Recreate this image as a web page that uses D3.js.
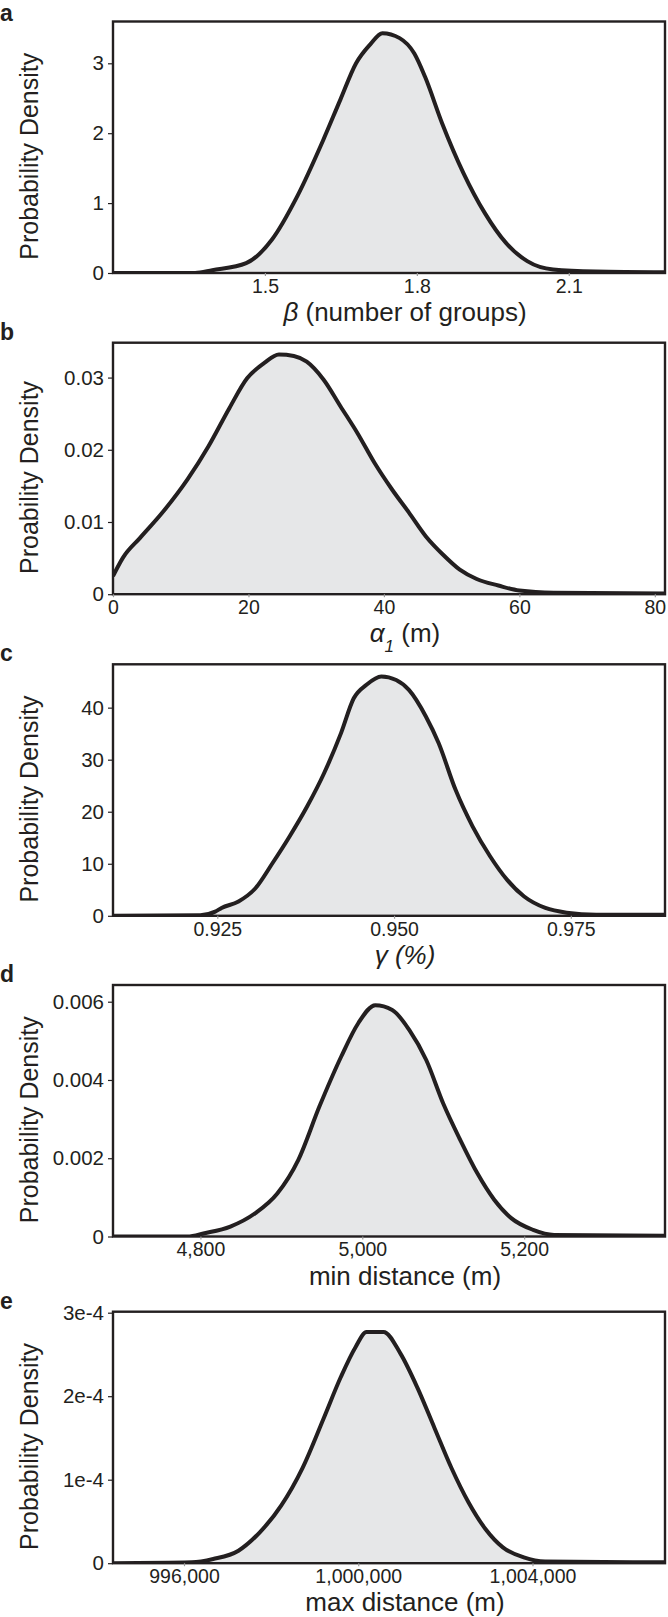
<!DOCTYPE html>
<html>
<head>
<meta charset="utf-8">
<script src="https://cdn.jsdelivr.net/npm/d3@7"></script>
<style>
  body { margin: 0; background: #fff; }
  svg { display: block; font-family: "Liberation Sans", Arial, sans-serif; }
</style>
</head>
<body>
<svg id="chart" width="668" height="1617"></svg>
<script>
// posterior densities, one pair of arrays per panel
const betaX = [1.2, 1.362, 1.396, 1.463, 1.514, 1.564, 1.615, 1.649, 1.680, 1.708, 1.732, 1.766, 1.795, 1.816, 1.850, 1.892, 1.934, 1.976, 2.018, 2.069, 2.153, 2.29];
const betaDensity = [0, 0, 0.04, 0.14, 0.48, 1.1, 1.9, 2.48, 3.0, 3.27, 3.43, 3.36, 3.14, 2.81, 2.14, 1.43, 0.86, 0.43, 0.17, 0.05, 0.02, 0.01];

const alphaX = [0, 1.5, 4.0, 7.2, 11.0, 14.1, 17.2, 19.8, 22.3, 24.5, 26.7, 28.6, 31.1, 33.6, 36.1, 38.6, 41.2, 43.7, 46.2, 48.7, 51.2, 53.7, 56.9, 60.0, 65.1, 81.6];
const alphaDensity = [0.0025, 0.0051, 0.0078, 0.0112, 0.0159, 0.0205, 0.0258, 0.0299, 0.0320, 0.0332, 0.0330, 0.0322, 0.0297, 0.0260, 0.0223, 0.0182, 0.0145, 0.0113, 0.0080, 0.0055, 0.0034, 0.0021, 0.0012, 0.0005, 0.0002, 0.0001];

const gammaX = [0.9103, 0.9226, 0.9247, 0.9256, 0.928, 0.9304, 0.9328, 0.9352, 0.9377, 0.9401, 0.9425, 0.9443, 0.9461, 0.9482, 0.9503, 0.9521, 0.9545, 0.9563, 0.9587, 0.9611, 0.9636, 0.966, 0.9684, 0.9714, 0.9744, 0.9786, 0.9883];
const gammaDensity = [0, 0.1, 0.8, 1.5, 2.75, 5.3, 10.1, 15.2, 21.0, 27.4, 35.1, 41.8, 44.4, 46.0, 45.3, 43.4, 38.3, 33.2, 24.2, 17.2, 11.4, 6.9, 3.7, 1.5, 0.6, 0.2, 0.2];

const minDistX = [4693, 4784, 4805, 4837, 4868, 4895, 4921, 4947, 4974, 4995, 5016, 5037, 5058, 5079, 5100, 5121, 5142, 5163, 5184, 5211, 5237, 5374];
const minDistDensity = [0, 0, 0.000085, 0.000255, 0.0006, 0.0011, 0.00196, 0.00332, 0.0046, 0.00545, 0.00591, 0.00579, 0.00528, 0.00451, 0.0034, 0.00247, 0.00162, 0.00094, 0.00047, 0.00017, 0.00004, 0.00002];

const maxDistX = [994370, 996180, 996670, 997250, 997740, 998230, 998720, 999210, 999600, 999940, 1000190, 1000580, 1000970, 1001360, 1001750, 1002140, 1002530, 1002920, 1003320, 1003800, 1004290, 1007040];
const maxDistDensity = [0, 0.01e-4, 0.05e-4, 0.15e-4, 0.37e-4, 0.69e-4, 1.14e-4, 1.74e-4, 2.23e-4, 2.59e-4, 2.77e-4, 2.77e-4, 2.51e-4, 2.10e-4, 1.62e-4, 1.14e-4, 0.73e-4, 0.41e-4, 0.19e-4, 0.07e-4, 0.02e-4, 0.01e-4];

// axis ranges and ticks
const xDomains = [[1.2, 2.29], [0, 81.5], [0.91025, 0.98832], [4692, 5374], [994370, 1007042]];
const yDomains = [[0, 3.598], [0, 0.03483], [0, 48.33], [0, 0.006427], [0, 3.012e-4]];
const xTicks = [[1.5, 1.8, 2.1], [0, 20, 40, 60, 80], [0.925, 0.95, 0.975], [4800, 5000, 5200], [996000, 1000000, 1004000]];
const xTickLabels = [["1.5", "1.8", "2.1"], ["0", "20", "40", "60", "80"], ["0.925", "0.950", "0.975"], ["4,800", "5,000", "5,200"], ["996,000", "1,000,000", "1,004,000"]];
const yTicks = [[0, 1, 2, 3], [0, 0.01, 0.02, 0.03], [0, 10, 20, 30, 40], [0, 0.002, 0.004, 0.006], [0, 1e-4, 2e-4, 3e-4]];
const yTickLabels = [["0", "1", "2", "3"], ["0", "0.01", "0.02", "0.03"], ["0", "10", "20", "30", "40"], ["0", "0.002", "0.004", "0.006"], ["0", "1e-4", "2e-4", "3e-4"]];
const panelLetters = ["a", "b", "c", "d", "e"];
const yTitles = ["Probability Density", "Proability Density", "Probability Density", "Probability Density", "Probability Density"];

const seriesX = [betaX, alphaX, gammaX, minDistX, maxDistX];
const seriesY = [betaDensity, alphaDensity, gammaDensity, minDistDensity, maxDistDensity];

// layout
const boxTops = [21.5, 342.7, 664.3, 985, 1311.7];
const boxH = 251.5;
const left = 113, right = 665;
const ink = "#231f20";

const svg = d3.select("#chart");

// x axis titles, some with greek / subscript pieces
const xTitleParts = [
  [{ t: "β", it: true }, { t: " (number of groups)" }],
  [{ t: "α", it: true }, { t: "1", it: true, sub: true }, { t: " (m)" }],
  [{ t: "γ (%)", it: true }],
  [{ t: "min distance (m)" }],
  [{ t: "max distance (m)" }]
];

panelLetters.forEach((letter, i) => {
  const top = boxTops[i];
  const bottom = top + boxH;
  const g = svg.append("g");

  const x = d3.scaleLinear().domain(xDomains[i]).range([left, right]);
  const y = d3.scaleLinear().domain(yDomains[i]).range([bottom, top]);

  const pts = seriesX[i].map((v, j) => [v, seriesY[i][j]]);

  const clipId = "clip" + i;
  g.append("clipPath").attr("id", clipId)
    .append("rect").attr("x", left).attr("y", top).attr("width", right - left).attr("height", boxH);

  const area = d3.area()
    .x(d => x(d[0])).y0(y(0)).y1(d => y(d[1]))
    .curve(d3.curveMonotoneX);
  const line = d3.line()
    .x(d => x(d[0])).y(d => y(d[1]))
    .curve(d3.curveMonotoneX);

  const plot = g.append("g").attr("clip-path", `url(#${clipId})`);
  plot.append("path").datum(pts).attr("d", area).attr("fill", "#e6e7e8");
  plot.append("path").datum(pts).attr("d", line)
    .attr("fill", "none").attr("stroke", ink).attr("stroke-width", 4)
    .attr("stroke-linejoin", "round");

  // frame
  g.append("rect").attr("x", left).attr("y", top)
    .attr("width", right - left).attr("height", boxH)
    .attr("fill", "none").attr("stroke", ink).attr("stroke-width", 2.4);

  const yAxis = g.append("g").attr("transform", `translate(${left},0)`)
    .call(d3.axisLeft(y).tickValues(yTicks[i]).tickFormat((d, j) => yTickLabels[i][j]).tickSize(5).tickPadding(4));
  yAxis.select(".domain").remove();
  yAxis.selectAll("line").attr("stroke", ink).attr("stroke-width", 1.2);
  yAxis.selectAll("text").attr("fill", ink).style("font-size", "20.5px").style("font-family", "Liberation Sans, Arial, sans-serif");

  const xAxis = g.append("g").attr("transform", `translate(0,${bottom})`)
    .call(d3.axisBottom(x).tickValues(xTicks[i]).tickFormat((d, j) => xTickLabels[i][j]).tickSize(3).tickPadding(3));
  xAxis.select(".domain").remove();
  xAxis.selectAll("line").attr("stroke", "#999").attr("stroke-width", 1.2);
  xAxis.selectAll("text").attr("fill", ink).style("font-size", "19.5px").style("font-family", "Liberation Sans, Arial, sans-serif");

  // titles
  const xt = g.append("text").attr("x", 405).attr("y", bottom + 48)
    .attr("text-anchor", "middle").attr("fill", ink).style("font-size", "26px");
  xTitleParts[i].forEach(p => {
    const ts = xt.append("tspan").text(p.t);
    if (p.it) ts.style("font-style", "italic");
    if (p.sub) ts.attr("baseline-shift", "sub").style("font-size", "17px");
  });

  g.append("text")
    .attr("transform", `translate(38,${top + boxH / 2 + 9}) rotate(-90)`)
    .attr("text-anchor", "middle").attr("fill", ink).style("font-size", "25px")
    .text(yTitles[i]);

  g.append("text").attr("x", 0).attr("y", Math.max(top - 3, 21))
    .attr("fill", ink).style("font-size", "23px").style("font-weight", "bold")
    .text(letter);
});
</script>
</body>
</html>
